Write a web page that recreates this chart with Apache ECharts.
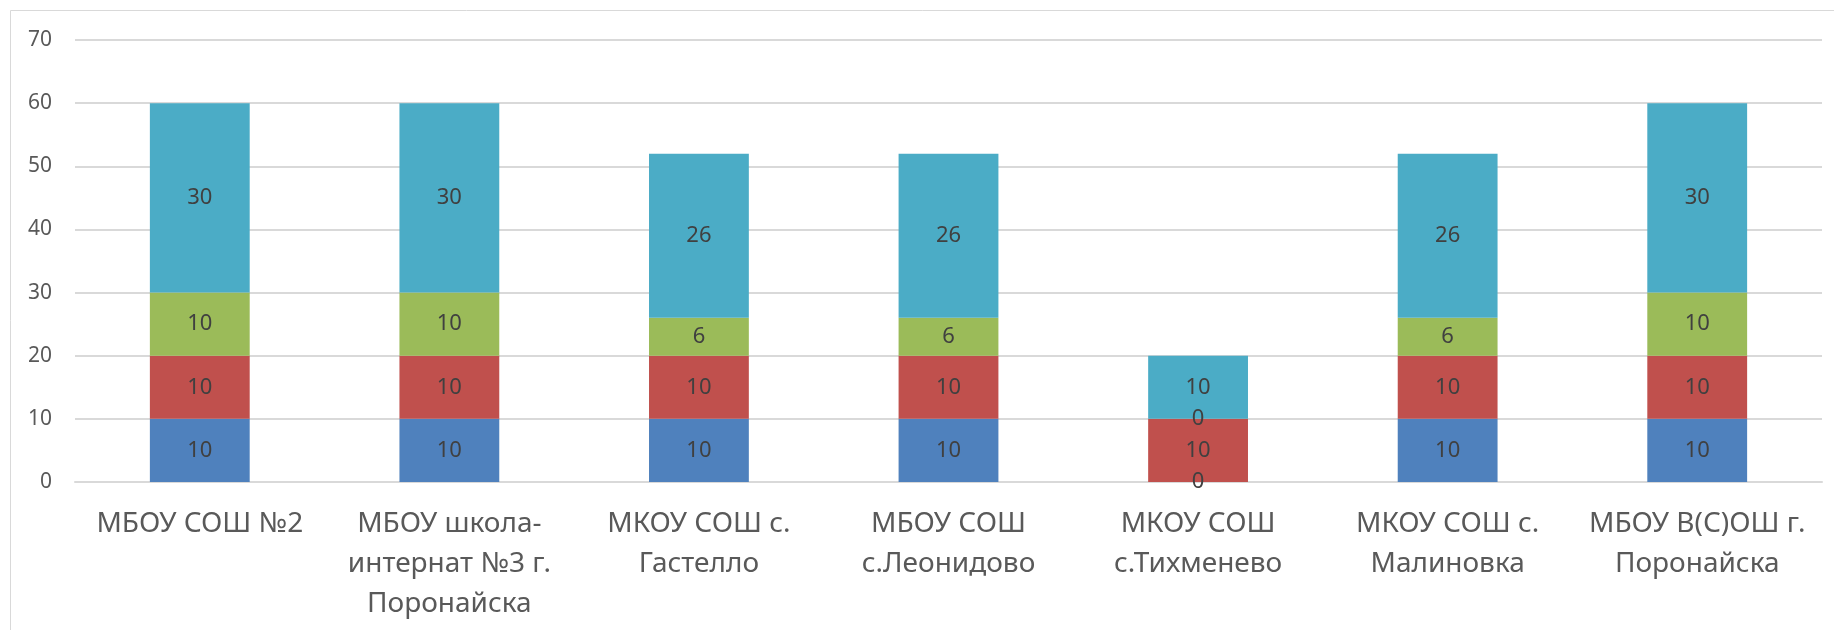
<!DOCTYPE html>
<html>
<head>
<meta charset="utf-8">
<script src="https://cdn.jsdelivr.net/npm/echarts@6/dist/echarts.min.js"></script>
<style>
  html, body { margin: 0; padding: 0; background: #fff; }
  #main { width: 1834px; height: 630px; }
</style>
</head>
<body>
<div id="main"></div>
<script>
// школы (подписи оси X)
var schools = [
  'МБОУ СОШ №2',
  'МБОУ школа-\nинтернат №3 г.\nПоронайска',
  'МКОУ СОШ с.\nГастелло',
  'МБОУ СОШ\nс.Леонидово',
  'МКОУ СОШ\nс.Тихменево',
  'МКОУ СОШ с.\nМалиновка',
  'МБОУ В(С)ОШ г.\nПоронайска'
];

// значения рядов, снизу вверх
var part1 = [10, 10, 10, 10, 0, 10, 10];
var part2 = [10, 10, 10, 10, 10, 10, 10];
var part3 = [10, 10, 6, 6, 0, 6, 10];
var part4 = [30, 30, 26, 26, 10, 26, 30];

var yTicks = [0, 10, 20, 30, 40, 50, 60, 70];

var chart = echarts.init(document.getElementById('main'));

var labelStyle = {
  show: true,
  position: 'inside',
  color: '#404040',
  fontSize: 22,
  fontFamily: 'Noto Sans'
};

function mkSeries(name, data, color) {
  return {
    name: name,
    type: 'bar',
    stack: 'total',
    data: data,
    barWidth: '40%',
    itemStyle: { color: color },
    label: labelStyle
  };
}

var option = {
  animation: false,
  backgroundColor: '#ffffff',
  textStyle: { fontFamily: 'Noto Sans' },
  // рамка диаграммы
  graphic: [{
    type: 'rect',
    shape: { x: 10.5, y: 10.5, width: 1840, height: 640 },
    style: { fill: 'none', stroke: '#d9d9d9', lineWidth: 1 },
    silent: true
  }],
  grid: {
    left: 75,
    right: 12,
    top: 40,
    bottom: 148
  },
  xAxis: {
    type: 'category',
    data: schools,
    axisLine: { show: true, lineStyle: { color: '#d9d9d9', width: 2 } },
    axisTick: { show: false },
    axisLabel: {
      color: '#595959',
      fontSize: 28,
      lineHeight: 40,
      margin: 22,
      interval: 0
    }
  },
  yAxis: {
    type: 'value',
    min: yTicks[0],
    max: yTicks[yTicks.length - 1],
    interval: 10,
    axisLine: { show: false },
    axisTick: { show: false },
    axisLabel: { color: '#595959', fontSize: 21, margin: 23 },
    splitLine: { lineStyle: { color: '#d9d9d9', width: 2 } }
  },
  series: [
    mkSeries('1', part1, '#4F81BD'),
    mkSeries('2', part2, '#C0504D'),
    mkSeries('3', part3, '#9BBB59'),
    mkSeries('4', part4, '#4BACC6')
  ]
};

chart.setOption(option);
</script>
</body>
</html>
